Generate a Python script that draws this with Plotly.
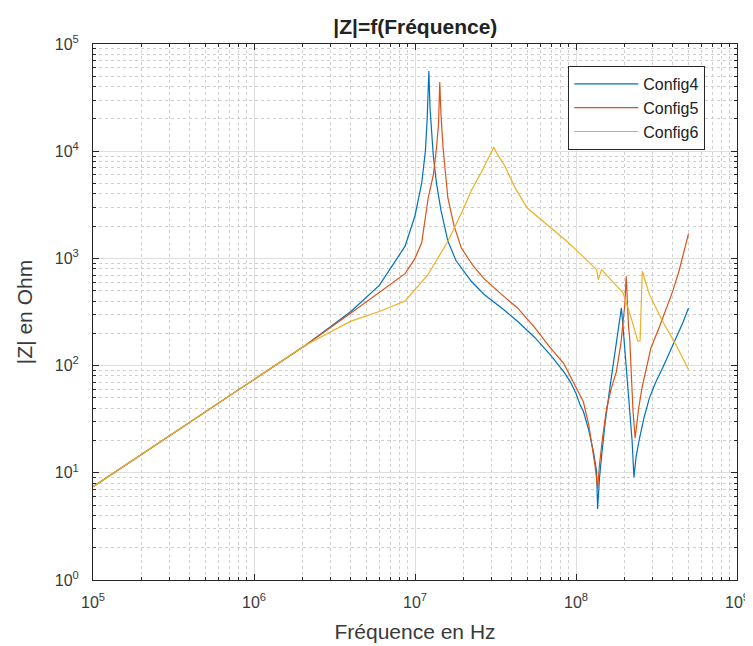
import plotly.graph_objects as go

# ---- data ----
f4 = [1e5, 1e6, 2.1e6, 4e6, 6e6, 8.68e6, 1.0e7, 1.1e7, 1.16e7, 1.19e7, 1.219e7,
      1.24e7, 1.267e7, 1.3e7, 1.36e7, 1.45e7, 1.6e7, 1.8e7, 2.23e7, 2.7e7, 3.58e7,
      4.33e7, 5.5e7, 6.93e7, 8.38e7, 9.21e7, 1.0e8, 1.061e8, 1.111e8, 1.2e8, 1.281e8,
      1.343e8, 1.362e8, 1.40e8, 1.445e8, 1.52e8, 1.623e8, 1.70e8, 1.782e8, 1.85e8,
      1.914e8, 1.95e8, 2.01e8, 2.08e8, 2.155e8, 2.23e8, 2.29e8, 2.36e8, 2.48e8, 2.65e8,
      2.86e8, 3.1e8, 3.45e8, 3.8e8, 4.17e8, 4.6e8, 5.0e8]
z4 = [7.4, 74, 156, 320, 560, 1300, 2500, 5000, 10000, 20000, 56000,
      25000, 15400, 9000, 5000, 2800, 1450, 950, 615, 458, 330,
      259, 185, 126, 88, 71, 55, 43, 37.5, 25, 15.9,
      10.3, 4.6, 9, 14.8, 30, 62, 100, 157, 250,
      345, 250, 140, 80, 43, 20, 9.1, 14, 21, 33,
      50, 68, 95, 130, 181, 250, 345]

f5 = [1e5, 1e6, 2.1e6, 4e6, 6e6, 8.68e6, 1.0e7, 1.1e7, 1.208e7, 1.3e7, 1.36e7, 1.40e7,
      1.425e7, 1.45e7, 1.494e7, 1.55e7, 1.6e7, 1.75e7, 1.94e7, 2.3e7, 2.7e7, 3.58e7,
      4.33e7, 5.5e7, 6.93e7, 8.38e7, 1.0e8, 1.111e8, 1.2e8, 1.31e8, 1.362e8, 1.40e8,
      1.46e8, 1.55e8, 1.65e8, 1.782e8, 1.9e8, 1.97e8, 2.01e8, 2.05e8, 2.08e8, 2.12e8,
      2.155e8, 2.26e8, 2.33e8, 2.45e8, 2.57e8, 2.92e8, 3.3e8, 3.6e8, 4.0e8, 4.36e8,
      4.7e8, 5.0e8]
z5 = [7.4, 74, 156, 310, 480, 720, 1000, 1400, 3660, 6000, 10700, 18000,
      44200, 22000, 10700, 6000, 3660, 2000, 1250, 850, 640, 440,
      345, 230, 146, 105, 62, 46, 28, 11.9, 7.2, 12,
      21, 40, 60, 88, 160, 260, 370, 681, 350, 230,
      181, 37.5, 21, 40, 62, 146, 230, 321, 500, 759,
      1150, 1700]

f6 = [1e5, 1e6, 2.1e6, 4e6, 6e6, 8.68e6, 1.2e7, 1.6e7, 2.0e7, 2.23e7, 2.6e7, 3.08e7,
      3.3e7, 3.58e7, 4.2e7, 4.98e7, 6.5e7, 8.77e7, 1.1e8, 1.343e8, 1.374e8, 1.40e8,
      1.442e8, 1.7e8, 1.96e8, 2.2e8, 2.42e8, 2.5e8, 2.58e8, 2.86e8, 3.45e8, 4.17e8, 5.0e8]
z6 = [7.4, 74, 156, 260, 320, 401, 700, 1443, 2900, 4250, 6500, 10900,
      9000, 7480, 4500, 2950, 2100, 1445, 1050, 785, 633, 700,
      785, 600, 476, 280, 169, 170, 759, 459, 259, 157, 92]

series_names = ["Config4", "Config5", "Config6"]
series_colors = ["#0072BD", "#D95319", "#EDB120"]

x_tick_vals = [1e5, 1e6, 1e7, 1e8, 1e9]
x_tick_text = ["10<sup>5</sup>", "10<sup>6</sup>", "10<sup>7</sup>", "10<sup>8</sup>", "10<sup>9</sup>"]
y_tick_vals = [1e0, 1e1, 1e2, 1e3, 1e4, 1e5]
y_tick_text = ["10<sup>0</sup>", "10<sup>1</sup>", "10<sup>2</sup>", "10<sup>3</sup>", "10<sup>4</sup>", "10<sup>5</sup>"]

FONT = "Liberation Sans, Arial, sans-serif"

fig = go.Figure()
for fx, zy, name, col in zip([f4, f5, f6], [z4, z5, z6], series_names, series_colors):
    fig.add_trace(go.Scatter(x=fx, y=zy, mode="lines", name=name,
                             line=dict(color=col, width=1.2)))

axis_common = dict(
    type="log", automargin=False,
    showline=True, linecolor="#262626", linewidth=1, mirror="allticks",
    ticks="inside", ticklen=6, tickcolor="#262626",
    showgrid=True, gridcolor="#dedede", gridwidth=1,
    zeroline=False,
    tickfont=dict(family=FONT, size=16, color="#3a3a3a"),
    minor=dict(ticks="inside", ticklen=3, tickcolor="#262626", dtick="D1",
               showgrid=True, gridcolor="#cfcfcf", griddash="dot", gridwidth=1),
)

fig.update_xaxes(**axis_common, range=[5, 9], tickvals=x_tick_vals, ticktext=x_tick_text,
                 ticklabelstandoff=8,
                 title=dict(text="Fréquence en Hz", font=dict(family=FONT, size=21, color="#3a3a3a"),
                            standoff=14))
fig.update_yaxes(**axis_common, range=[0, 5], tickvals=y_tick_vals, ticktext=y_tick_text,
                 ticklabelstandoff=10,
                 title=dict(text="|Z| en Ohm", font=dict(family=FONT, size=21, color="#3a3a3a"),
                            standoff=16))

fig.update_layout(
    width=753, height=646,
    margin=dict(l=85, r=24, t=36, b=74),
    paper_bgcolor="white", plot_bgcolor="white",
    title=dict(text="<b>|Z|=f(Fréquence)</b>", x=0.541, xanchor="center", y=0.971, yanchor="middle",
               font=dict(family=FONT, size=21, color="#222222")),
    legend=dict(x=0.738, y=0.959, xanchor="left", yanchor="top",
                bgcolor="white", bordercolor="#262626", borderwidth=1,
                font=dict(family=FONT, size=16, color="#222222"),
                itemwidth=64, tracegroupgap=0),
    showlegend=True,
)

fig.write_html("out.html")
